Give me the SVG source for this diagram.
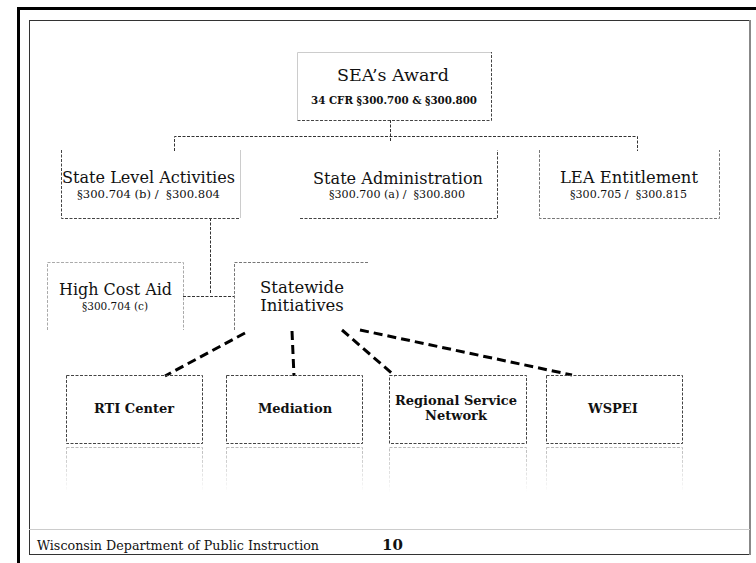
<svg xmlns="http://www.w3.org/2000/svg" width="756" height="563" viewBox="0 0 756 563">
<defs>
<style>
text{font-family:"DejaVu Serif","Liberation Serif",serif;fill:#111;}
.t{font-size:16.5px;text-anchor:middle;}
.s{font-size:10.5px;text-anchor:middle;}
.b{font-size:13px;font-weight:bold;text-anchor:middle;}
.dk{fill:none;stroke:#444;stroke-width:1;stroke-dasharray:3 1.5;}
.md{fill:none;stroke:#777;stroke-width:1;stroke-dasharray:3 1.5;}
.lt{fill:none;stroke:#ccc;stroke-width:1;}
.lf{fill:none;stroke:#aaa;stroke-width:1;stroke-dasharray:3 1.5;}
.cn{fill:none;stroke:#333;stroke-width:1;stroke-dasharray:3 1.5;}
.th{fill:none;stroke:#000;stroke-width:3;stroke-dasharray:9 5;}
.rf{fill:none;stroke:url(#fade);stroke-width:1;stroke-dasharray:3 1.5;}
</style>
<linearGradient id="fade" x1="0" y1="0" x2="0" y2="1">
<stop offset="0" stop-color="#bbb"/>
<stop offset="1" stop-color="#fff"/>
</linearGradient>
</defs>
<rect width="756" height="563" fill="#fff"/>
<g id="frame">
<path d="M18.5,563 V8.5 H756" fill="none" stroke="#000" stroke-width="3"/>
<rect x="29.5" y="20.5" width="720" height="534" fill="none" stroke="#333" stroke-width="1"/>
<line x1="750" y1="20" x2="750" y2="555" stroke="#888" stroke-width="2"/>
<line x1="29" y1="529.5" x2="750" y2="529.5" stroke="#ccc" stroke-width="1"/>
</g>
<g id="connectors">
<path class="cn" d="M390.5,120 V141"/>
<path class="cn" d="M174.5,151 V136.5 H637.5 V151"/>
<path class="cn" d="M210.5,218 V293"/>
<path class="cn" d="M183,296.5 H234"/>
<path class="th" d="M245,333 L165,376"/>
<path class="th" d="M292,331 L294,376"/>
<path class="th" d="M342,330 L395,376"/>
<path class="th" d="M360,330 L572,375"/>
</g>
<g id="sea-award">
<path class="lt" d="M297.5,120 V52.5 H491"/>
<path class="dk" d="M297.5,120.5 H491.5 V52"/>
<text class="t" x="393" y="81" style="font-size:17.5px">SEA’s Award</text>
<text class="s" x="394" y="104" font-weight="bold" textLength="166" lengthAdjust="spacingAndGlyphs">34 CFR §300.700 &amp; §300.800</text>
</g>
<g id="state-level">
<path class="lt" d="M240.5,150 V218"/>
<path class="dk" d="M61.5,150 V218.5 H240"/>
<text class="t" x="148.5" y="183" textLength="173" lengthAdjust="spacingAndGlyphs">State Level Activities</text>
<text class="s" x="148.5" y="197.5" textLength="143" lengthAdjust="spacingAndGlyphs" xml:space="preserve">§300.704 (b) /  §300.804</text>
</g>
<g id="state-admin">
<path class="dk" d="M300,218.5 H497.5 V150"/>
<text class="t" x="398" y="184" textLength="170" lengthAdjust="spacingAndGlyphs">State Administration</text>
<text class="s" x="397" y="198" textLength="136" lengthAdjust="spacingAndGlyphs" xml:space="preserve">§300.700 (a) /  §300.800</text>
</g>
<g id="lea">
<path class="md" d="M539.5,150 V218.5 H719.5 V150"/>
<text class="t" x="629" y="183" textLength="138" lengthAdjust="spacingAndGlyphs">LEA Entitlement</text>
<text class="s" x="628.5" y="197.5" textLength="117" lengthAdjust="spacingAndGlyphs" xml:space="preserve">§300.705 /  §300.815</text>
</g>
<g id="high-cost">
<path class="lf" d="M47.5,330 V262.5 H183.5 V330"/>
<text class="t" x="115.5" y="295" textLength="113" lengthAdjust="spacingAndGlyphs">High Cost Aid</text>
<text class="s" x="115" y="310">§300.704 (c)</text>
</g>
<g id="statewide">
<path class="md" d="M234.5,330 V262.5 H368"/>
<text class="t" x="302" y="293">Statewide</text>
<text class="t" x="302" y="311">Initiatives</text>
</g>
<g id="rti">
<rect class="dk" x="66.5" y="375.5" width="136" height="68"/>
<rect class="rf" x="66.5" y="447.5" width="136" height="45"/>
<text class="b" x="134" y="413">RTI Center</text>
</g>
<g id="mediation">
<rect class="dk" x="226.5" y="375.5" width="136" height="68"/>
<rect class="rf" x="226.5" y="447.5" width="136" height="45"/>
<text class="b" x="295" y="413">Mediation</text>
</g>
<g id="regional">
<rect class="dk" x="389.5" y="375.5" width="137" height="68"/>
<rect class="rf" x="389.5" y="447.5" width="137" height="45"/>
<text class="b" x="456" y="405" textLength="122" lengthAdjust="spacingAndGlyphs">Regional Service</text>
<text class="b" x="456" y="420">Network</text>
</g>
<g id="wspei">
<rect class="dk" x="546.5" y="375.5" width="136" height="68"/>
<rect class="rf" x="546.5" y="447.5" width="136" height="45"/>
<text class="b" x="613" y="413">WSPEI</text>
</g>
<g id="footer">
<text x="37" y="550" style="font-size:13px" textLength="282" lengthAdjust="spacingAndGlyphs">Wisconsin Department of Public Instruction</text>
<text x="382" y="550" style="font-size:15px;font-weight:bold">10</text>
</g>
</svg>
